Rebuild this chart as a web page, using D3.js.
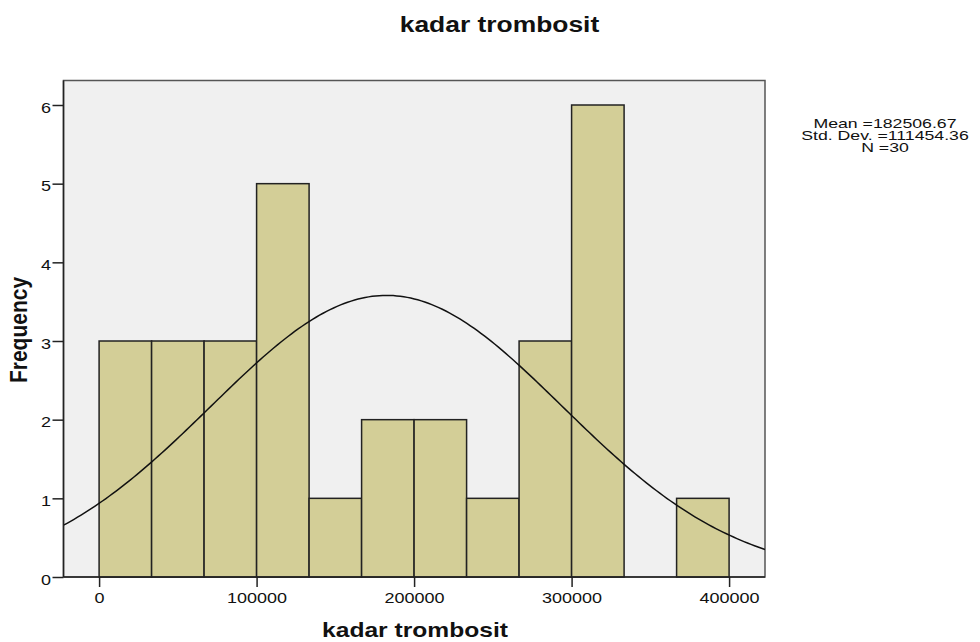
<!DOCTYPE html>
<html><head><meta charset="utf-8">
<script src="https://cdn.jsdelivr.net/npm/d3@7"></script>
<style>body{margin:0;background:#fff}svg{display:block}text{font-family:Arial,"Liberation Sans",sans-serif}</style>
</head><body><svg id="c" width="980" height="642"></svg>
<script>
const binStarts = [0,33333.33,66666.67,100000,133333.33,166666.67,200000,233333.33,266666.67,300000,333333.33,366666.67];
const binWidth = 33333.33;
const counts = [3,3,3,5,1,2,2,1,3,6,0,1];
const xTicks = [0,100000,200000,300000,400000];
const yTicks = [0,1,2,3,4,5,6];
const stats = {mean:182506.67, sd:111454.36, n:30};
const statLabels = ["Mean =182506.67","Std. Dev. =111454.36","N =30"];

const STRETCH = 1.2;
function stretch(sel, k){
  sel.each(function(){
    const w = this.getComputedTextLength();
    d3.select(this).attr("textLength", w*(k||STRETCH)).attr("lengthAdjust","spacingAndGlyphs");
  });
}

const svg = d3.select("#c");
const L=63.5, R=765, T=80.5, B=577;
const x = d3.scaleLinear().domain([-22600,422800]).range([L,R]);
const y = d3.scaleLinear().domain([0,6]).range([B,105]);

svg.append("rect").attr("x",L).attr("y",T).attr("width",R-L).attr("height",B-T)
  .attr("fill","#f0f0f0").attr("stroke","#555").attr("stroke-width",1.5);

const bars = binStarts.map((s,i)=>({s,c:counts[i]})).filter(d=>d.c>0);
svg.selectAll("rect.bar").data(bars).enter().append("rect").attr("class","bar")
  .attr("x",d=>x(d.s)).attr("width",d=>x(d.s+binWidth)-x(d.s))
  .attr("y",d=>y(d.c)).attr("height",d=>y(0)-y(d.c))
  .attr("fill","#d3ce97").attr("stroke","#222").attr("stroke-width",1.5);

// fitted normal curve from the stated mean / sd / N
const dens = v => stats.n*binWidth/(stats.sd*Math.sqrt(2*Math.PI))*Math.exp(-0.5*Math.pow((v-stats.mean)/stats.sd,2));
const xs = d3.range(0,201).map(i=>x.invert(L+(R-L)*i/200));
svg.append("clipPath").attr("id","cp").append("rect").attr("x",L).attr("y",T).attr("width",R-L).attr("height",B-T);
svg.append("path").datum(xs).attr("clip-path","url(#cp)")
  .attr("d",d3.line().x(d=>x(d)).y(d=>y(dens(d))))
  .attr("fill","none").attr("stroke","#111").attr("stroke-width",1.5);

// axes
const xa = svg.append("g").attr("transform",`translate(0,${B})`)
  .call(d3.axisBottom(x).tickValues(xTicks).tickFormat(d3.format("d")).tickSize(10).tickSizeOuter(0));
xa.select(".domain").attr("d",`M${L},0H${R}`).attr("stroke","#222").attr("stroke-width",1.5);
xa.selectAll(".tick line").attr("stroke","#222").attr("stroke-width",1.5);
xa.selectAll(".tick text").attr("font-size",15).attr("fill","#111").attr("y",0).attr("dy",25.5).call(stretch);

const ya = svg.append("g").attr("transform",`translate(${L},0)`)
  .call(d3.axisLeft(y).tickValues(yTicks).tickFormat(d3.format("d")).tickSize(11).tickSizeOuter(0));
ya.select(".domain").attr("d",`M0,${T}V${B}`).attr("stroke","#222").attr("stroke-width",1.5);
ya.selectAll(".tick line").attr("stroke","#222").attr("stroke-width",1.5);
ya.selectAll(".tick text").attr("font-size",15).attr("fill","#111").attr("x",-12.5).attr("dy","0.48em").call(stretch);

svg.append("text").attr("x",499.5).attr("y",31.5).attr("text-anchor","middle")
  .attr("font-size",22).attr("font-weight","bold").attr("fill","#111").text("kadar trombosit").call(stretch);
svg.append("text").attr("x",415).attr("y",636.5).attr("text-anchor","middle")
  .attr("font-size",20.5).attr("font-weight","bold").attr("fill","#111").text("kadar trombosit").call(stretch);
svg.append("text").attr("transform","translate(27,330) rotate(-90) scale(1,1.18)").attr("text-anchor","middle")
  .attr("font-size",21).attr("font-weight","bold").attr("fill","#111").text("Frequency");

svg.selectAll("text.stat").data(statLabels).enter().append("text").attr("class","stat")
  .attr("x",885).attr("y",(d,i)=>127.5+i*12).attr("text-anchor","middle")
  .attr("font-size",13).attr("fill","#111").text(d=>d).call(stretch, 1.36);
</script></body></html>
